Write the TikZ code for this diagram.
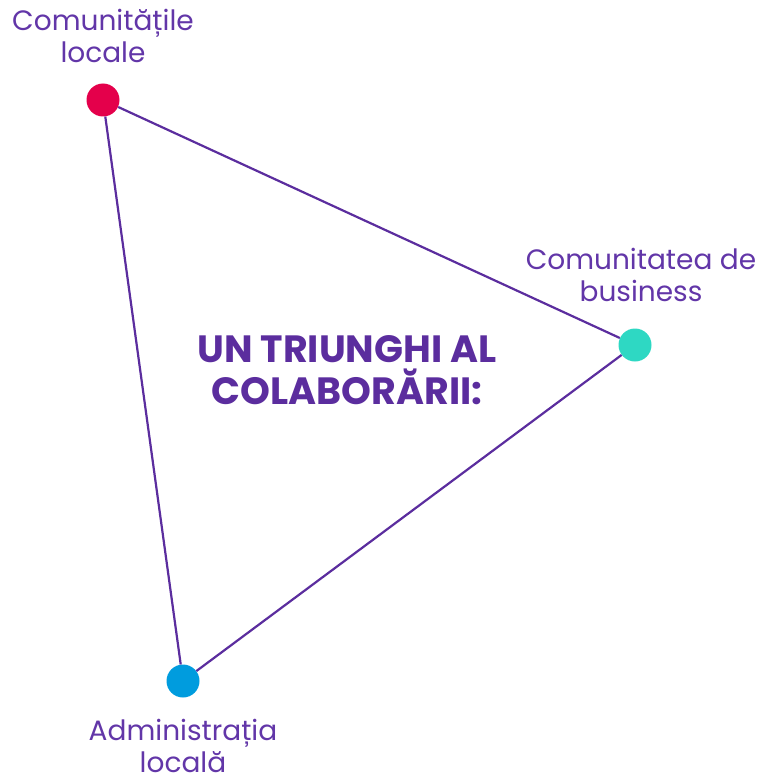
\documentclass[tikz,border=0pt]{standalone}
\usepackage{fontspec}
\setmainfont{Poppins}
\usetikzlibrary{positioning}

\definecolor{lineviolet}{HTML}{5B2D9E}
\definecolor{textviolet}{HTML}{6236A8}
\definecolor{dotred}{HTML}{E4004B}
\definecolor{dotteal}{HTML}{2ED8C3}
\definecolor{dotblue}{HTML}{009CDE}

\begin{document}
\begin{tikzpicture}[ x = 1pt
                   , y = -1pt
                   , node distance = 16pt
                   , every node/.style = { align = center
                                         , text = textviolet }
                   ]
  \useasboundingbox (0,0) rectangle (762,781);

  %%
  %% Nodes
  %%
  \tikzset{ dot/.style={circle, inner sep=0pt, minimum size=33pt}
          , label/.style={font=\fontsize{28}{32}\selectfont, inner sep=0pt}
          , title/.style={font=\fontsize{38}{42}\selectfont\bfseries, text=lineviolet}
          }

  \node (local) [dot, fill=dotred] at (103,100) {};
  \node (business) [dot, fill=dotteal] at (635,345) {};
  \node (admin) [dot, fill=dotblue] at (183,681) {};

  \node (locallbl) [label, above = 20pt of local] {Comunitățile\\locale};
  \node (businesslbl) [label, above = 26pt of business, xshift = 6pt] {Comunitatea de\\business};
  \node (adminlbl) [label, below = 21pt of admin] {Administrația\\locală};

  \node (title) [title] at (347,370) {UN TRIUNGHI AL\\COLABORĂRII:};

  %%
  %% Triangle sides
  %%
  \draw[lineviolet, line width=2.2pt] (local) -- (business);
  \draw[lineviolet, line width=2.2pt] (business) -- (admin);
  \draw[lineviolet, line width=2.2pt] (admin) -- (local);
\end{tikzpicture}
\end{document}
